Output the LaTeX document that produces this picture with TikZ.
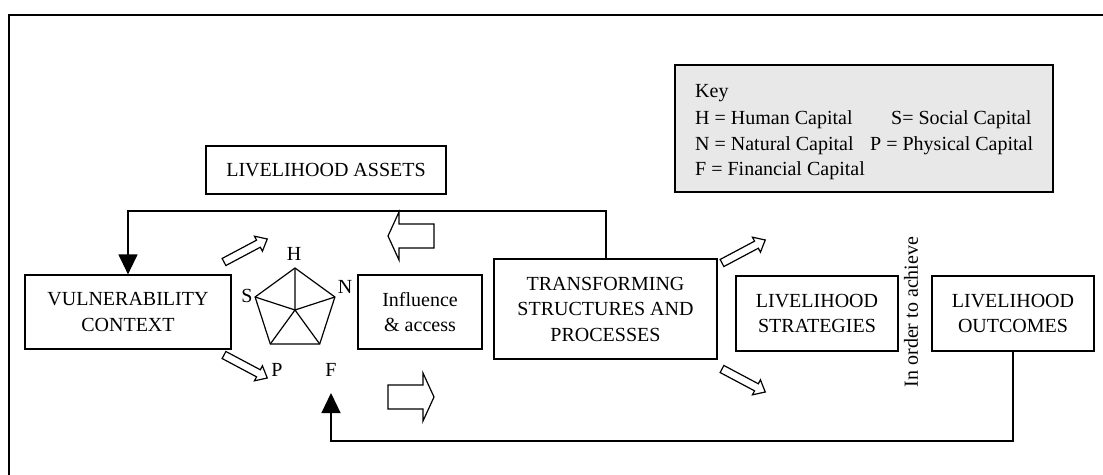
\documentclass[tikz,border=0pt]{standalone}
\usepackage{fontspec}
\setmainfont{Liberation Serif}
\usetikzlibrary{arrows.meta}
\definecolor{keygray}{RGB}{232,232,232}
\newcommand\hollowarrow[6]{%
  \draw[arrowbody,shift={#1},rotate=#2] (0,-#4)--(#3-#6,-#4)--(#3-#6,-#5)--(#3,0)--(#3-#6,#5)--(#3-#6,#4)--(0,#4)--cycle;}
\begin{document}
\begin{tikzpicture}[x=1pt,y=-1pt,
  txt/.style={font=\fontsize{20}{25.5}\selectfont, inner sep=0pt},
  box/.style={txt, draw, line width=1.2pt, align=center},
  arrowbody/.style={draw, line width=1.2pt, fill=white, line join=miter},
  conn/.style={line width=1.2pt},
  pent/.style={line width=1.2pt, line join=miter}]
\useasboundingbox (0,0) rectangle (1103,474);
% frame
\draw[conn] (9,480) -- (9,15) -- (1110,15);
% key
\node[box, fill=keygray, minimum width=378pt, minimum height=127pt] (key) at (864,128.5) {};
\node[txt, anchor=base west] (k0) at (695,97) {Key};
\node[txt, anchor=base west] (k1) at (695,124) {H = Human Capital};
\node[txt, anchor=base west] (k2) at (891,124) {S= Social Capital};
\node[txt, anchor=base west] (k3) at (695,150) {N = Natural Capital};
\node[txt, anchor=base west] (k4) at (870,150) {P = Physical Capital};
\node[txt, anchor=base west] (k5) at (695,175) {F = Financial Capital};
% boxes
\node[box, minimum width=240pt, minimum height=48pt] (la) at (326,170) {LIVELIHOOD ASSETS};
\node[box, minimum width=206pt, minimum height=74pt] (vc) at (128,312) {VULNERABILITY\\CONTEXT};
\node[box, minimum width=124pt, minimum height=74pt] (ia) at (420,312) {Influence\\\& access};
\node[box, minimum width=223pt, minimum height=100pt] (tsp) at (605.5,309) {TRANSFORMING\\STRUCTURES AND\\PROCESSES};
\node[box, minimum width=162pt, minimum height=75pt] (ls) at (817,313.5) {LIVELIHOOD\\STRATEGIES};
\node[box, minimum width=162pt, minimum height=75pt] (lo) at (1013,313.5) {LIVELIHOOD\\OUTCOMES};
\node[txt, rotate=90] (ach) at (911,312) {In order to achieve};
% pentagon
\coordinate (pc) at (295,310);
\coordinate (pH) at (295,268);
\coordinate (pN) at (334.9,297);
\coordinate (pS) at (255.1,297);
\coordinate (pR) at (319.7,344);
\coordinate (pL) at (270.3,344);
\draw[pent] (pH) -- (pN) -- (pR) -- (pL) -- (pS) -- cycle;
\draw[pent] (pc) -- (pH) (pc) -- (pN) (pc) -- (pR) (pc) -- (pL) (pc) -- (pS);
\node[txt] (lH) at (294,254) {H};
\node[txt] (lS) at (247,296) {S};
\node[txt] (lN) at (345,287) {N};
\node[txt] (lP) at (277,370) {P};
\node[txt] (lF) at (331,370) {F};
% feedback connectors
\draw[conn, -{Triangle[width=19pt,length=20pt]}] (tsp.north -| 606,0) -- (606,211) -- (128,211) -- (vc.north);
\coordinate (ftip) at (331,393);
\draw[conn, -{Triangle[width=19pt,length=20pt]}] (lo.south) -- (1013,441) -- (331,441) -- (ftip);
% hollow arrows
\hollowarrow{(224,262)}{28}{49}{4}{8.5}{10}
\hollowarrow{(224,355)}{-28}{49}{4}{8.5}{10}
\hollowarrow{(722,263)}{28}{49}{4}{8.5}{10}
\hollowarrow{(722,369)}{-28}{49}{4}{8.5}{10}
\hollowarrow{(434,236)}{180}{46}{12}{24}{11}
\hollowarrow{(388,397)}{0}{46}{12}{24}{11}
\end{tikzpicture}
\end{document}
